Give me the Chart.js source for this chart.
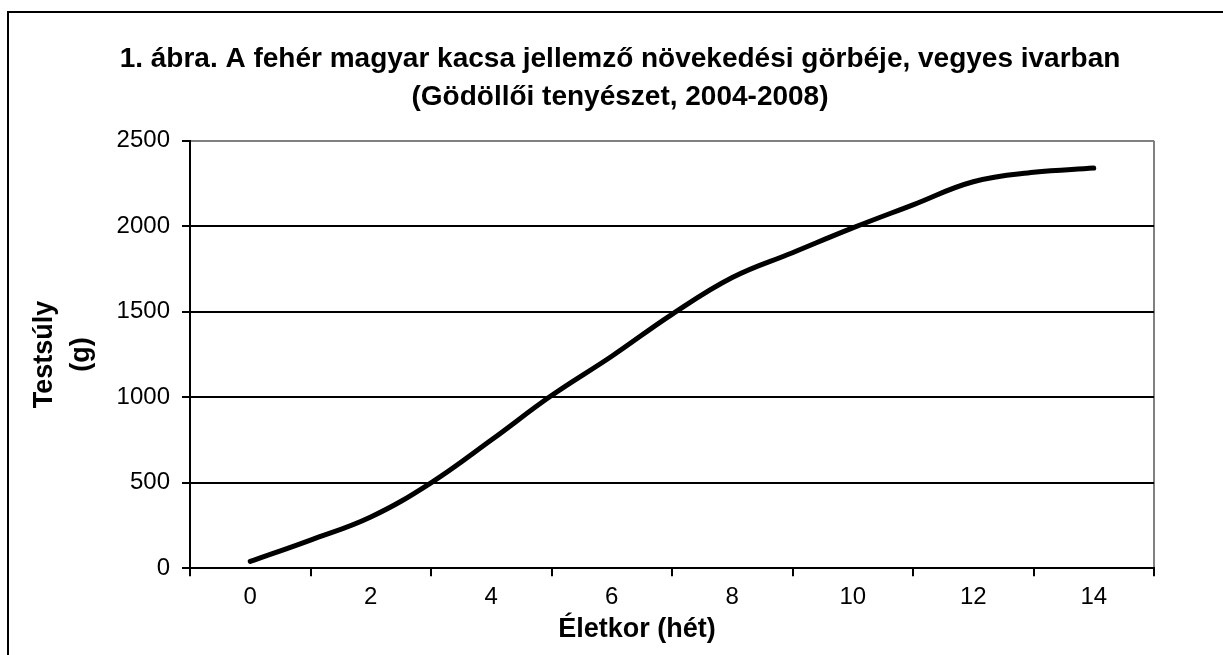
<!DOCTYPE html>
<html>
<head>
<meta charset="utf-8">
<script src="https://cdn.jsdelivr.net/npm/chart.js@4/dist/chart.umd.min.js"></script>
<style>
  html, body { margin: 0; padding: 0; background: #fff; overflow: hidden; width: 1223px; height: 655px; }
  #frame { position: absolute; left: 7px; top: 11px; width: 1400px; height: 800px; border: 2px solid #000; box-sizing: border-box; }
  #c { position: absolute; left: 0; top: 0; }
</style>
</head>
<body>
<div id="frame"></div>
<canvas id="c" width="1240" height="655"></canvas>
<script>
const titleLines = ['1. ábra. A fehér magyar kacsa jellemző növekedési görbéje, vegyes ivarban', '(Gödöllői tenyészet, 2004-2008)'];
const xTitle = 'Életkor (hét)';
const yTitleLines = ['Testsúly', '(g)'];
const weeks = [0, 1, 2, 3, 4, 5, 6, 7, 8, 9, 10, 11, 12, 13, 14];
const weights = [40, 165, 300, 500, 750, 1010, 1240, 1485, 1700, 1845, 1990, 2125, 2260, 2315, 2340];
const yTicks = [0, 500, 1000, 1500, 2000, 2500];

const FONT = '"Liberation Sans", Arial, sans-serif';

const xTitlePlugin = {
  id: 'xTitle',
  afterDraw(chart) {
    const ctx = chart.ctx;
    const xs = chart.scales.x;
    ctx.save();
    ctx.font = 'bold 27px ' + FONT;
    ctx.fillStyle = '#000';
    ctx.textAlign = 'center';
    ctx.textBaseline = 'middle';
    ctx.fillText(xTitle, xs.getPixelForValue(6.42), xs.top + 61);
    ctx.restore();
  }
};

new Chart(document.getElementById('c'), {
  type: 'line',
  data: {
    datasets: [{
      data: weeks.map((w, i) => ({ x: w, y: weights[i] })),
      borderColor: '#000',
      borderWidth: 5,
      borderCapStyle: 'round',
      pointRadius: 0,
      tension: 0.4,
      fill: false
    }]
  },
  options: {
    responsive: false,
    animation: false,
    layout: { padding: { left: 86, right: 86, top: 0, bottom: 0 } },
    plugins: {
      legend: { display: false },
      tooltip: { enabled: false },
      title: {
        display: true,
        text: titleLines,
        color: '#000',
        font: { family: FONT, size: 28, weight: 'bold', lineHeight: '38px' },
        padding: { top: 40, bottom: 24.7 }
      }
    },
    scales: {
      x: {
        type: 'linear',
        min: -1,
        max: 15,
        afterFit(s) { s.height = 86.7; },
        afterBuildTicks(s) {
          const t = [];
          for (let v = -1; v <= 15; v++) t.push({ value: v });
          s.ticks = t;
        },
        ticks: {
          autoSkip: false,
          maxRotation: 0,
          padding: 7,
          color: '#000',
          font: { family: FONT, size: 24 },
          callback: (v) => (v >= 0 && v <= 14 && v % 2 === 0) ? String(v) : ''
        },
        grid: {
          drawOnChartArea: true,
          lineWidth: 2,
          tickLength: 8,
          color: (c) => (c.tick && c.tick.value === 15) ? '#808080' : 'rgba(0,0,0,0)',
          tickColor: (c) => (c.tick && Math.abs(c.tick.value % 2) === 1) ? '#000' : 'rgba(0,0,0,0)'
        },
        border: { display: true, color: '#000', width: 2 }
      },
      y: {
        min: 0,
        max: 2500,
        afterFit(s) { s.width = 104; },
        afterBuildTicks(s) { s.ticks = yTicks.map(v => ({ value: v })); },
        ticks: {
          padding: 12,
          color: '#000',
          font: { family: FONT, size: 24 },
          callback: (v) => String(v)
        },
        grid: {
          lineWidth: 2,
          tickLength: 8,
          color: (c) => (c.tick && c.tick.value === 2500) ? '#808080' : '#000',
          tickColor: '#000'
        },
        border: { display: true, color: '#000', width: 2 },
        title: {
          display: true,
          text: yTitleLines,
          color: '#000',
          font: { family: FONT, size: 27, weight: 'bold', lineHeight: '37px' },
          padding: { top: -59.5, bottom: 0 }
        }
      }
    }
  },
  plugins: [xTitlePlugin]
});
</script>
</body>
</html>
